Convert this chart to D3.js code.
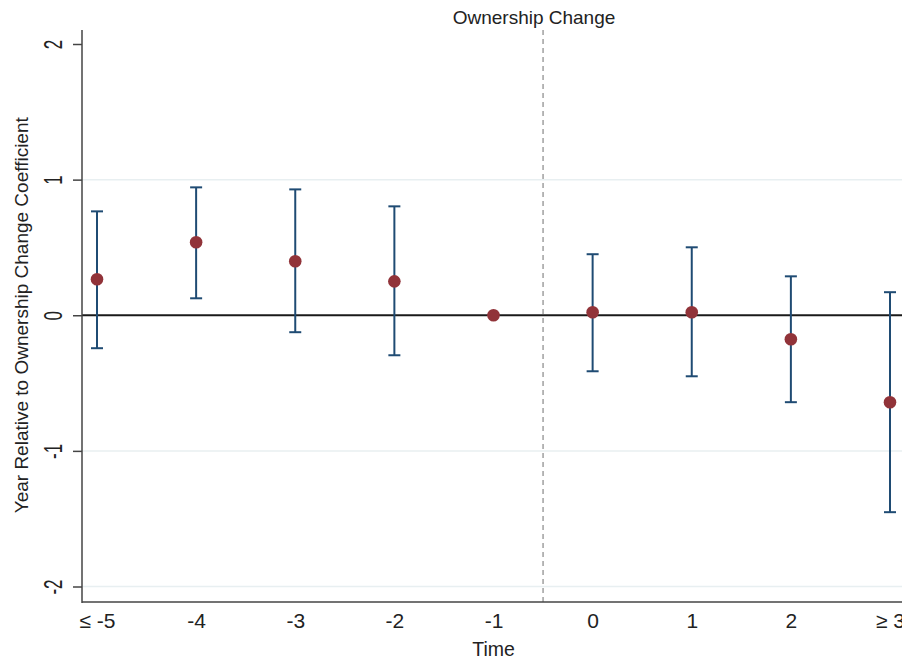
<!DOCTYPE html>
<html><head><meta charset="utf-8">
<script src="https://cdn.jsdelivr.net/npm/d3@7"></script>
<style>body{margin:0;background:#fff;} svg{display:block;font-family:"Liberation Sans",Arial,sans-serif;}</style>
</head><body>
<svg id="c" width="902" height="660"></svg>
<script>
const periods = [-5, -4, -3, -2, -1, 0, 1, 2, 3];
const periodLabels = ["≤ -5", "-4", "-3", "-2", "-1", "0", "1", "2", "≥ 3"];
const coef = [0.265, 0.538, 0.398, 0.25, 0, 0.022, 0.022, -0.177, -0.641];
const upper = [0.766, 0.943, 0.928, 0.803, null, 0.45, 0.501, 0.287, 0.17];
const lower = [-0.243, 0.125, -0.125, -0.295, null, -0.413, -0.45, -0.641, -1.452];
const yTicks = [-2, -1, 0, 1, 2];
const yTickLabels = ["-2", "-1", "0", "1", "2"];
const gridTicks = [-2, -1, 1];

const FONT = '"Liberation Sans",Arial,Helvetica,sans-serif';
const svg = d3.select("#c");
const x = d3.scaleLinear().domain([-5, 3]).range([97, 890]);
const y = d3.scaleLinear().domain([-2, 2]).range([586.5, 44]);
const plotLeft = 82, plotRight = 920, plotTop = 30, plotBottom = 602;

// gridlines
svg.append("g").selectAll("line").data(gridTicks).join("line")
  .attr("x1", plotLeft).attr("x2", plotRight)
  .attr("y1", d => y(d)).attr("y2", d => y(d))
  .attr("stroke", "#e8eff1").attr("stroke-width", 1.5);

// zero line
svg.append("line").attr("x1", plotLeft).attr("x2", plotRight)
  .attr("y1", y(0)).attr("y2", y(0)).attr("stroke", "#1a1a1a").attr("stroke-width", 2);

// dashed vertical
svg.append("line").attr("x1", x(-0.5)).attr("x2", x(-0.5))
  .attr("y1", plotTop).attr("y2", plotBottom)
  .attr("stroke", "#a0a0a0").attr("stroke-width", 1.5).attr("stroke-dasharray", "5,4");

svg.append("text").attr("x", 534).attr("y", 24).attr("text-anchor", "middle")
  .style("font-size", "19px").style("font-family", FONT).attr("fill", "#222").text("Ownership Change");

// y axis
const yAxis = svg.append("g").attr("transform", `translate(${plotLeft},0)`)
  .call(d3.axisLeft(y).tickValues(yTicks).tickSize(9).tickFormat((d, i) => yTickLabels[i]));
yAxis.select(".domain").remove();
yAxis.selectAll(".tick line").attr("stroke", "#444").attr("stroke-width", 1.5);
yAxis.selectAll(".tick text")
  .style("font-size", "20px").style("font-family", FONT).attr("fill", "#222")
  .attr("x", null).attr("y", null).attr("dy", null)
  .attr("text-anchor", "middle")
  .attr("transform", "translate(-20,0) rotate(-90) scale(0.85,1.32)");
svg.append("line").attr("x1", plotLeft).attr("x2", plotLeft).attr("y1", plotTop).attr("y2", plotBottom + 1)
  .attr("stroke", "#444").attr("stroke-width", 1.5);

// x axis
const xAxis = svg.append("g").attr("transform", `translate(0,${plotBottom})`)
  .call(d3.axisBottom(x).tickValues(periods).tickSize(0).tickPadding(0)
    .tickFormat((d, i) => periodLabels[i]));
xAxis.select(".domain").remove();
xAxis.selectAll(".tick text").style("font-size", "21px").style("font-family", FONT).attr("fill", "#222")
  .attr("dy", null).attr("y", 26);
svg.append("line").attr("x1", plotLeft).attr("x2", plotRight).attr("y1", plotBottom).attr("y2", plotBottom)
  .attr("stroke", "#444").attr("stroke-width", 1.5);

// titles
svg.append("text").attr("x", x(-1)).attr("y", 656).attr("text-anchor", "middle")
  .style("font-size", "19.5px").style("font-family", FONT).attr("fill", "#222").text("Time");
svg.append("text").attr("transform", `translate(28,${y(0)}) rotate(-90)`)
  .attr("text-anchor", "middle").style("font-size", "19px").style("font-family", FONT).attr("fill", "#222")
  .text("Year Relative to Ownership Change Coefficient");

// error bars
const eb = periods.map((p, i) => ({p, lo: lower[i], hi: upper[i]})).filter(d => d.lo !== null);
const g = svg.append("g").attr("stroke", "#1f4b73").attr("stroke-width", 2);
g.selectAll("line.v").data(eb).join("line").attr("class", "v")
  .attr("x1", d => x(d.p)).attr("x2", d => x(d.p)).attr("y1", d => y(d.lo)).attr("y2", d => y(d.hi));
g.selectAll("line.t").data(eb).join("line").attr("class", "t")
  .attr("x1", d => x(d.p) - 6).attr("x2", d => x(d.p) + 6).attr("y1", d => y(d.hi)).attr("y2", d => y(d.hi));
g.selectAll("line.b").data(eb).join("line").attr("class", "b")
  .attr("x1", d => x(d.p) - 6).attr("x2", d => x(d.p) + 6).attr("y1", d => y(d.lo)).attr("y2", d => y(d.lo));

// points
svg.append("g").selectAll("circle").data(periods).join("circle")
  .attr("cx", d => x(d)).attr("cy", (d, i) => y(coef[i])).attr("r", 6.3)
  .attr("fill", "#913339");
</script>
</body></html>
